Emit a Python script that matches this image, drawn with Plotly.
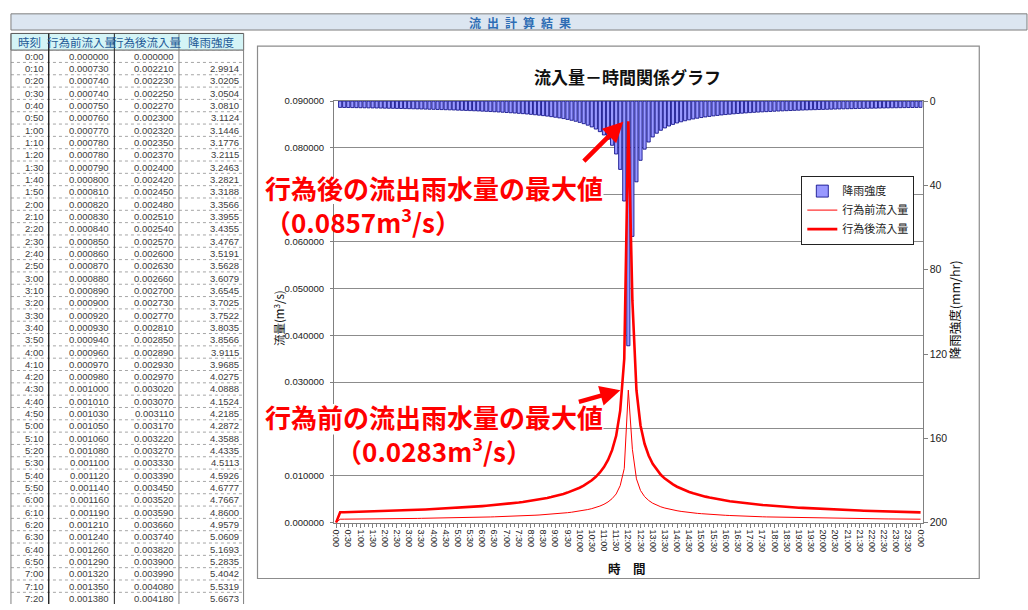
import plotly.graph_objects as go

W, H = 1028, 610


def px(x):
    return x / W


def py(y):
    return 1 - y / H


# 10-minute time steps over one day
times = [f"{h}:{m:02d}" for h in range(24) for m in range(0, 60, 10)] + ["24:00"]
tick_labels = [t if t != "24:00" else "0:00" for t in times[::3]]

# flow axis ticks; the 0.07 and 0.02 labels sit under the call-out texts
flow_ticks = [0.00, 0.01, 0.02, 0.03, 0.04, 0.05, 0.06, 0.07, 0.08, 0.09]
flow_tick_text = ["0.000000", "0.010000", "", "0.030000", "0.040000",
                  "0.050000", "0.060000", "", "0.080000", "0.090000"]

# rainfall intensity (mm/hr) for each 10-minute step
rain = [None,
        2.9914, 3.0205, 3.0504, 3.0810, 3.1124, 3.1446, 3.1776, 3.2115, 3.2463, 3.2821,
        3.3188, 3.3566, 3.3955, 3.4355, 3.4767, 3.5191, 3.5628, 3.6079, 3.6545, 3.7025,
        3.7522, 3.8035, 3.8566, 3.9115, 3.9685, 4.0275, 4.0888, 4.1524, 4.2185, 4.2872,
        4.3588, 4.4335, 4.5113, 4.5926, 4.6777, 4.7667, 4.8600, 4.9579, 5.0609, 5.1693,
        5.2835, 5.4042, 5.5319, 5.6673,
        5.810, 5.960, 6.120, 6.300, 6.480, 6.680, 6.900, 7.130, 7.390, 7.660,
        7.970, 8.300, 8.680, 9.090, 9.560, 10.09, 10.71, 11.42, 12.26, 13.26,
        14.50, 16.07, 18.12, 20.97, 25.10, 32.40, 47.40, 116.1, 64.20, 38.30,
        28.10, 22.80, 19.42, 17.02, 15.24, 13.85, 12.74, 11.82, 11.05, 10.39,
        9.820, 9.320, 8.880, 8.490, 8.130, 7.810, 7.520, 7.260, 7.010, 6.790,
        6.580, 6.390, 6.210, 6.040, 5.880, 5.740, 5.599, 5.467, 5.343, 5.226,
        5.115, 5.009, 4.909, 4.813, 4.722, 4.635, 4.552, 4.472, 4.396, 4.323,
        4.253, 4.185, 4.120, 4.058, 3.998, 3.940, 3.884, 3.830, 3.778, 3.727,
        3.678, 3.631, 3.585, 3.541, 3.498, 3.456, 3.416, 3.376, 3.338, 3.300,
        3.264, 3.229, 3.195, 3.161, 3.129, 3.097, 3.066, 3.035, 3.006, 2.977]

# inflow before development (m3/s)
before = [0.0,
          0.00073, 0.00074, 0.00074, 0.00075, 0.00076, 0.00077, 0.00078, 0.00078, 0.00079, 0.00080,
          0.00081, 0.00082, 0.00083, 0.00084, 0.00085, 0.00086, 0.00087, 0.00088, 0.00089, 0.00090,
          0.00092, 0.00093, 0.00094, 0.00096, 0.00097, 0.00098, 0.00100, 0.00101, 0.00103, 0.00105,
          0.00106, 0.00108, 0.00110, 0.00112, 0.00114, 0.00116, 0.00119, 0.00121, 0.00124, 0.00126,
          0.00129, 0.00132, 0.00135, 0.00138,
          0.00142, 0.00145, 0.00149, 0.00154, 0.00158, 0.00163, 0.00168, 0.00174, 0.00180, 0.00187,
          0.00194, 0.00203, 0.00212, 0.00222, 0.00233, 0.00246, 0.00261, 0.00279, 0.00299, 0.00324,
          0.00354, 0.00392, 0.00442, 0.00512, 0.00612, 0.00791, 0.01157, 0.02830, 0.01566, 0.00935,
          0.00686, 0.00556, 0.00474, 0.00415, 0.00372, 0.00338, 0.00311, 0.00288, 0.00270, 0.00254,
          0.00240, 0.00227, 0.00217, 0.00207, 0.00198, 0.00191, 0.00183, 0.00177, 0.00171, 0.00166,
          0.00161, 0.00156, 0.00152, 0.00147, 0.00143, 0.00140, 0.00137, 0.00133, 0.00130, 0.00128,
          0.00125, 0.00122, 0.00120, 0.00117, 0.00115, 0.00113, 0.00111, 0.00109, 0.00107, 0.00105,
          0.00104, 0.00102, 0.00101, 0.00099, 0.00098, 0.00096, 0.00095, 0.00093, 0.00092, 0.00091,
          0.00090, 0.00089, 0.00087, 0.00086, 0.00085, 0.00084, 0.00083, 0.00082, 0.00081, 0.00081,
          0.00080, 0.00079, 0.00078, 0.00077, 0.00076, 0.00076, 0.00075, 0.00074, 0.00073, 0.00073]

# inflow after development (m3/s)
after = [0.0,
         0.00221, 0.00223, 0.00225, 0.00227, 0.00230, 0.00232, 0.00235, 0.00237, 0.00240, 0.00242,
         0.00245, 0.00248, 0.00251, 0.00254, 0.00257, 0.00260, 0.00263, 0.00266, 0.00270, 0.00273,
         0.00277, 0.00281, 0.00285, 0.00289, 0.00293, 0.00297, 0.00302, 0.00307, 0.00311, 0.00317,
         0.00322, 0.00327, 0.00333, 0.00339, 0.00345, 0.00352, 0.00359, 0.00366, 0.00374, 0.00382,
         0.00390, 0.00399, 0.00408, 0.00418,
         0.00429, 0.00440, 0.00452, 0.00465, 0.00478, 0.00493, 0.00509, 0.00526, 0.00546, 0.00565,
         0.00588, 0.00613, 0.00641, 0.00671, 0.00706, 0.00745, 0.00791, 0.00843, 0.00905, 0.00979,
         0.01070, 0.01186, 0.01338, 0.01548, 0.01853, 0.02392, 0.03499, 0.08570, 0.04739, 0.02827,
         0.02074, 0.01683, 0.01434, 0.01256, 0.01125, 0.01022, 0.00940, 0.00873, 0.00816, 0.00767,
         0.00725, 0.00688, 0.00656, 0.00627, 0.00600, 0.00577, 0.00555, 0.00536, 0.00517, 0.00501,
         0.00486, 0.00472, 0.00458, 0.00446, 0.00434, 0.00424, 0.00413, 0.00404, 0.00394, 0.00386,
         0.00378, 0.00370, 0.00362, 0.00355, 0.00349, 0.00342, 0.00336, 0.00330, 0.00325, 0.00319,
         0.00314, 0.00309, 0.00304, 0.00300, 0.00295, 0.00291, 0.00287, 0.00283, 0.00279, 0.00275,
         0.00272, 0.00268, 0.00265, 0.00261, 0.00258, 0.00255, 0.00252, 0.00249, 0.00246, 0.00244,
         0.00241, 0.00238, 0.00236, 0.00233, 0.00231, 0.00229, 0.00226, 0.00224, 0.00222, 0.00220]

table_headers = ["時刻", "行為前流入量", "行為後流入量", "降雨強度"]
table_rows = 45

idx = list(range(len(times)))
LATIN = "Liberation Sans, Arial, Noto Sans CJK JP"
CJK = "Noto Sans CJK JP, Liberation Sans"


def note(x, y, text, xanchor="center", yanchor="middle", **kw):
    """Paper-positioned text given in pixel coordinates."""
    d = dict(xref="paper", yref="paper", x=px(x), y=py(y), text=text,
             xanchor=xanchor, yanchor=yanchor, showarrow=False)
    d.update(kw)
    return d


def arrow(x_tip, y_tip, x_tail, y_tail):
    return dict(xref="paper", yref="paper", x=px(x_tip), y=py(y_tip),
                ax=x_tail - x_tip, ay=y_tail - y_tip, axref="pixel", ayref="pixel",
                text="", showarrow=True, arrowhead=2, arrowsize=0.9,
                arrowwidth=4.5, arrowcolor="#FF0000")


def white_box(x0, y0, x1, y1):
    return dict(type="rect", xref="paper", yref="paper",
                x0=px(x0), x1=px(x1), y0=py(y0), y1=py(y1),
                fillcolor="white", line=dict(width=0), layer="above")


fig = go.Figure()
fig.add_trace(go.Bar(
    x=idx, y=rain, name="降雨強度", yaxis="y",
    marker=dict(color="#9999FF", line=dict(color="#000080", width=0.8)),
))
fig.add_trace(go.Scatter(
    x=idx, y=before, name="行為前流入量", yaxis="y2", mode="lines",
    line=dict(color="#FF0000", width=1),
))
fig.add_trace(go.Scatter(
    x=idx, y=after, name="行為後流入量", yaxis="y2", mode="lines",
    line=dict(color="#FF0000", width=2.6),
))

shapes = []
annotations = []

# header banner
shapes.append(dict(type="rect", xref="paper", yref="paper",
                   x0=px(8), x1=px(1030), y0=py(8), y1=py(24.5),
                   fillcolor="#DCE6F1", line=dict(color="#7F7F7F", width=1), layer="below"))
annotations.append(note(520, 16.5, "<b>流\u2002出\u2002計\u2002算\u2002結\u2002果</b>",
                        font=dict(family=CJK, size=12, color="#2E6DB4")))

# chart frame
shapes.append(dict(type="rect", xref="paper", yref="paper",
                   x0=px(256), x1=px(982), y0=py(41), y1=py(584),
                   fillcolor="white", line=dict(color="#8C8C8C", width=1.2), layer="below"))

# data table
col_edges = [8, 46, 112, 177, 242]
head_top, head_bot = 28, 45
row_h = 12.57
shapes.append(dict(type="rect", xref="paper", yref="paper",
                   x0=px(col_edges[0]), x1=px(col_edges[-1]), y0=py(head_top), y1=py(head_bot),
                   fillcolor="#D4F4F6", line=dict(color="#555555", width=1)))
for i in range(table_rows + 1):
    yy = head_bot + i * row_h
    if yy > H:
        break
    shapes.append(dict(type="line", xref="paper", yref="paper",
                       x0=px(col_edges[0]), x1=px(col_edges[-1]), y0=py(yy), y1=py(yy),
                       line=dict(color="#A6A6A6", width=1, dash="dot")))
for k, xe in enumerate(col_edges):
    shapes.append(dict(type="line", xref="paper", yref="paper",
                       x0=px(xe), x1=px(xe), y0=py(head_top), y1=py(H),
                       line=dict(color="#222222" if k in (1, 2) else "#7F7F7F",
                                 width=1.4 if k == 1 else 1)))
for k, h in enumerate(table_headers):
    annotations.append(note((col_edges[k] + col_edges[k + 1]) / 2, 37, h,
                            font=dict(family=CJK, size=11.5, color="#1F5A96")))
for i in range(table_rows):
    yc = head_bot + i * row_h + row_h / 2
    cells = [
        times[i],
        f"{before[i]:.6f}",
        f"{after[i]:.6f}",
        "" if rain[i] is None else f"{rain[i]:.4f}",
    ]
    for k, txt in enumerate(cells):
        if not txt:
            continue
        annotations.append(note(col_edges[k + 1] - 3, yc, txt, xanchor="right",
                                font=dict(family=LATIN, size=9.5, color="#404040")))

# chart title and axis titles
annotations.append(note(628, 72, "<b>流入量－時間関係グラフ</b>",
                        font=dict(family=CJK, size=17, color="#111111")))
annotations.append(note(278, 318, "流量(m<sup>3</sup>/s)", textangle=-90,
                        font=dict(family=CJK, size=11.5, color="#111111")))
annotations.append(note(957, 310, "降雨強度(mm/hr)", textangle=-90,
                        font=dict(family=CJK, size=12.5, color="#111111")))
annotations.append(note(628, 574, "<b>時　間</b>",
                        font=dict(family=CJK, size=12.5, color="#111111")))

# peak call-outs (white boxes keep the gridlines out of the first text line)
peak_after = max(after)
peak_before = max(before)
red_font = dict(family=CJK, size=26, color="#FF0000")
shapes.append(white_box(262, 176, 604, 202))
shapes.append(white_box(262, 406, 604, 437))
annotations += [
    note(262, 202, "<b>行為後の流出雨水量の最大値<br>"
                   f"（{peak_after:.4f}m<sup>3</sup>/s）</b>",
         xanchor="left", align="left", font=red_font),
    note(262, 436, "<b>行為前の流出雨水量の最大値<br>"
                   f"（{peak_before:.4f}m<sup>3</sup>/s）</b>",
         xanchor="left", align="center", font=red_font),
    arrow(624, 118, 583, 159),
    arrow(621, 392, 578, 404),
]

fig.update_layout(
    width=W, height=H,
    margin=dict(l=0, r=0, t=0, b=0),
    paper_bgcolor="white", plot_bgcolor="white",
    font=dict(family=LATIN, color="#222222"),
    bargap=0.22,
    showlegend=True,
    legend=dict(x=px(803), y=py(173), xanchor="left", yanchor="top",
                bgcolor="white", bordercolor="#222222", borderwidth=1,
                font=dict(family=CJK, size=11, color="#222222"),
                itemwidth=30, tracegroupgap=0),
    xaxis=dict(domain=[px(333), px(925)], range=[-0.5, 144.5], anchor="y",
               tickmode="array", tickvals=idx[::3], ticktext=tick_labels,
               tickangle=90, tickfont=dict(size=9, color="#222222"),
               ticks="outside", ticklen=4, tickcolor="#808080",
               minor=dict(tickmode="linear", tick0=0, dtick=1, ticks="outside",
                          ticklen=3, tickcolor="#808080", showgrid=False),
               showline=True, linecolor="#808080", mirror=True,
               showgrid=False, zeroline=False),
    yaxis=dict(domain=[py(527), py(97)], range=[200, 0], side="right", anchor="x",
               tickmode="linear", tick0=0, dtick=40,
               tickfont=dict(size=10.5, color="#222222"),
               ticks="outside", ticklen=4, tickcolor="#808080",
               showline=True, linecolor="#808080",
               showgrid=False, zeroline=False),
    yaxis2=dict(overlaying="y", side="left", anchor="x", range=[0, 0.09],
                tickmode="array", tickvals=flow_ticks, ticktext=flow_tick_text,
                tickfont=dict(size=9.5, color="#222222"),
                ticks="outside", ticklen=3, tickcolor="#808080",
                ticklabelstandoff=4,
                showline=True, linecolor="#808080",
                showgrid=True, gridcolor="#8C8C8C", gridwidth=1, zeroline=False),
    shapes=shapes,
    annotations=annotations,
)

fig.write_html("out.html")
